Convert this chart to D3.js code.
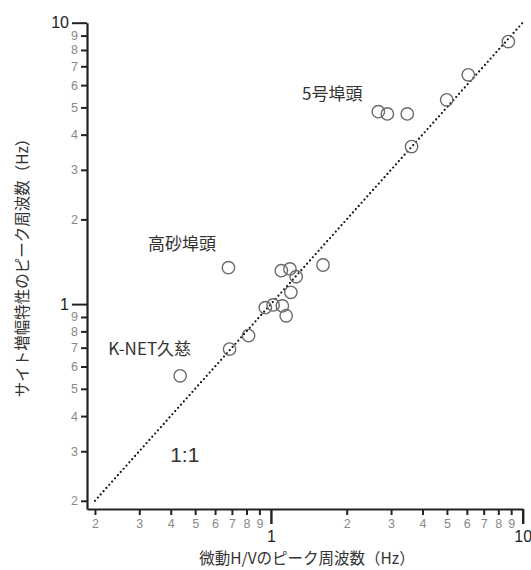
<!DOCTYPE html>
<html><head><meta charset="utf-8">
<script src="https://cdn.jsdelivr.net/npm/d3@7"></script>
<style>
body{margin:0;background:#fff;}
svg{display:block;}
text{font-family:"Liberation Sans","Noto Sans CJK JP",sans-serif;}
.jp{font-family:"Noto Sans CJK JP","Liberation Sans",sans-serif;}
</style></head>
<body><svg id="c" width="531" height="570"></svg>
<script>
// H/V peak frequency (x, Hz) vs site amplification peak frequency (y, Hz)
const hvFreq   = [0.678,1.10,1.19,1.26,1.61,1.20,0.95,1.02,1.11,1.15,0.815,0.685,0.436,2.67,2.90,3.48,3.62,4.99,6.08,8.77];
const siteFreq = [1.347,1.315,1.333,1.251,1.377,1.101,0.971,0.993,0.985,0.909,0.773,0.692,0.556,4.83,4.74,4.74,3.63,5.32,6.53,8.57];
const minorTicks = [0.2,0.3,0.4,0.5,0.6,0.7,0.8,0.9,2,3,4,5,6,7,8,9];
const majorTicks = [1,10];
const annotations = ["5号埠頭","高砂埠頭","K-NET久慈"];
const annotAt = [[1.33,5.3],[0.325,1.557],[0.226,0.659]];
const oneToOne = [0.2,10];
const xTitle = "微動H/Vのピーク周波数（Hz）";
const yTitle = "サイト増幅特性のピーク周波数（Hz）";

const svg = d3.select("#c");
const x = d3.scaleLog().domain([0.186,10]).range([87,522.7]);
const y = d3.scaleLog().domain([0.187,10]).range([509,22.7]);
const lab = v => v >= 1 ? String(Math.round(v)) : String(Math.round(v*10));

// y axis
const yAx = svg.append("g").attr("transform","translate(87,0)")
  .call(d3.axisLeft(y).tickValues(minorTicks).tickSize(6).tickSizeOuter(0).tickFormat(lab));
yAx.select(".domain").attr("stroke","#222").attr("stroke-width",2.2);
yAx.selectAll(".tick line").attr("stroke","#222").attr("stroke-width",2);
yAx.selectAll(".tick text").attr("x",-9).attr("fill","#888").attr("font-size",12.5).attr("font-family","Liberation Sans");
const yMaj = svg.append("g").attr("transform","translate(87,0)")
  .call(d3.axisLeft(y).tickValues(majorTicks).tickSize(15).tickSizeOuter(0).tickFormat(lab));
yMaj.select(".domain").remove();
yMaj.selectAll(".tick line").attr("stroke","#222").attr("stroke-width",2);
yMaj.selectAll(".tick text").attr("x",-18).attr("fill","#222").attr("font-size",16).attr("font-family","Liberation Sans");

// x axis
const xAx = svg.append("g").attr("transform","translate(0,509)")
  .call(d3.axisBottom(x).tickValues(minorTicks).tickSize(6).tickSizeOuter(0).tickFormat(lab));
xAx.select(".domain").attr("stroke","#222").attr("stroke-width",2.2);
xAx.selectAll(".tick line").attr("stroke","#222").attr("stroke-width",2);
xAx.selectAll(".tick text").attr("y",10).attr("fill","#888").attr("font-size",12.5).attr("font-family","Liberation Sans");
const xMaj = svg.append("g").attr("transform","translate(0,509)")
  .call(d3.axisBottom(x).tickValues(majorTicks).tickSize(15).tickSizeOuter(0).tickFormat(lab));
xMaj.select(".domain").remove();
xMaj.selectAll(".tick line").attr("stroke","#222").attr("stroke-width",2.4);
xMaj.selectAll(".tick text").attr("y",22).attr("fill","#222").attr("font-size",16).attr("font-family","Liberation Sans");

// 1:1 line
svg.append("line")
  .attr("x1",x(oneToOne[0])).attr("y1",y(oneToOne[0]))
  .attr("x2",x(oneToOne[1])).attr("y2",y(oneToOne[1]))
  .attr("stroke","#111").attr("stroke-width",2.2)
  .attr("stroke-dasharray","0,4.3").attr("stroke-linecap","round");

// points
svg.append("g").selectAll("circle").data(hvFreq).join("circle")
  .attr("cx",(d)=>x(d)).attr("cy",(d,i)=>y(siteFreq[i])).attr("r",6.2)
  .attr("fill","none").attr("stroke","#6a6a6a").attr("stroke-width",1.4);

// annotations
svg.append("g").selectAll("text").data(annotations).join("text")
  .attr("class","jp")
  .attr("x",(d,i)=>x(annotAt[i][0])).attr("y",(d,i)=>y(annotAt[i][1]))
  .attr("font-size",17).attr("fill","#333").text(d=>d);
svg.append("text").attr("x",x(0.398)).attr("y",y(0.2745))
  .attr("font-size",21).attr("fill","#333").text("1:1");

// titles
svg.append("text").attr("class","jp").attr("x",307).attr("y",564)
  .attr("text-anchor","middle").attr("font-size",15.5).attr("fill","#333").text(xTitle);
svg.append("text").attr("class","jp")
  .attr("transform","translate(28,264) rotate(-90)")
  .attr("text-anchor","middle").attr("font-size",15.5).attr("fill","#333").text(yTitle);
</script></body></html>
